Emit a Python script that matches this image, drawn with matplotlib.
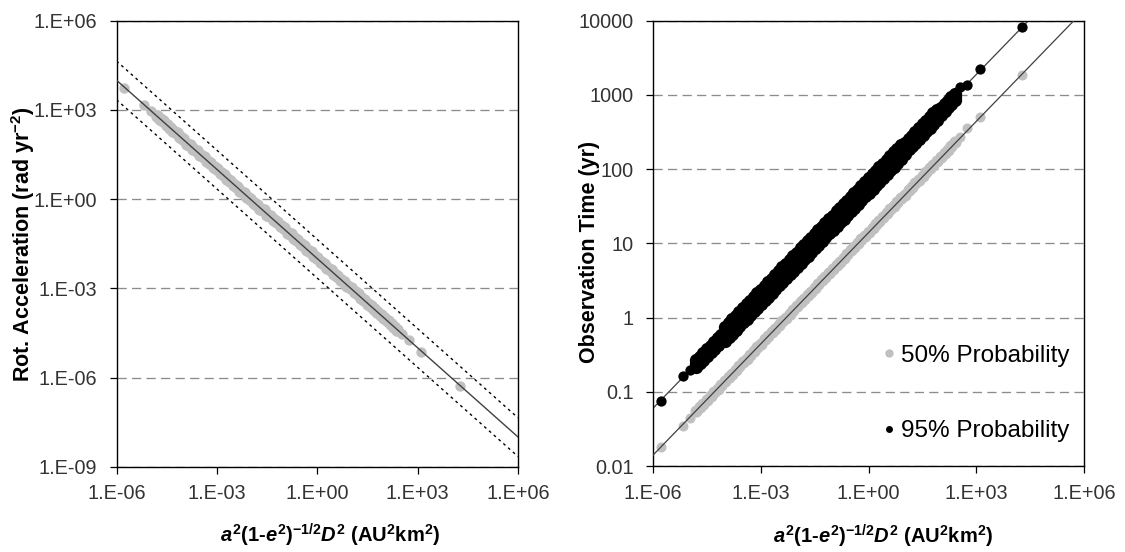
import matplotlib
matplotlib.use("Agg")
import matplotlib.pyplot as plt
import numpy as np
from matplotlib.lines import Line2D
from matplotlib.ticker import FixedLocator, FuncFormatter, NullLocator

plt.rcParams["font.family"] = ["Liberation Sans", "DejaVu Sans"]
plt.rcParams["mathtext.fontset"] = "custom"
plt.rcParams["mathtext.rm"] = "Liberation Sans:bold"
plt.rcParams["mathtext.it"] = "Liberation Sans:italic:bold"
plt.rcParams["mathtext.bf"] = "Liberation Sans:bold"
plt.rcParams["mathtext.default"] = "rm"

# isolated objects at both ends of the sample
x_ends = [1.64e-6, 6.7e-6, 1.07e-5, 3.5e2, 5.5e2, 1.29e3, 1.86e4]
accel_ends = [5.6e3, 1.5e3, 9.3e2, 2.9e-5, 1.8e-5, 7.4e-6, 5.2e-7]
t50_ends = [0.018, 0.0346, 0.044, 270, 355, 510, 1860]
t95_ends = [0.075, 0.163, 0.196, 1270, 1360, 2220, 8140]

# dense part of the sample
x_band = [
    1.6e-5, 2.0e-5, 2.5e-5, 3.2e-5, 4.0e-5, 5.0e-5, 6.3e-5, 8.0e-5,
    1.0e-4, 1.3e-4, 1.6e-4, 2.0e-4, 2.5e-4, 3.2e-4, 4.0e-4, 5.0e-4, 6.3e-4, 8.0e-4,
    1.0e-3, 1.3e-3, 1.6e-3, 2.0e-3, 2.5e-3, 3.2e-3, 4.0e-3, 5.0e-3, 6.3e-3, 8.0e-3,
    1.0e-2, 1.3e-2, 1.6e-2, 2.0e-2, 2.5e-2, 3.2e-2, 4.0e-2, 5.0e-2, 6.3e-2, 8.0e-2,
    0.10, 0.13, 0.16, 0.20, 0.25, 0.32, 0.40, 0.50, 0.63, 0.80,
    1.0, 1.3, 1.6, 2.0, 2.5, 3.2, 4.0, 5.0, 6.3, 8.0,
    10, 13, 16, 20, 25, 32, 40, 50, 63, 80,
    100, 130, 160, 200, 250,
]
accel_band = [
    640, 490, 410, 305, 255, 195, 162, 122,
    104, 74.0, 65.0, 48.0, 41.5, 30.0, 26.0, 19.2, 16.5, 12.0,
    10.4, 7.40, 6.50, 4.80, 4.15, 3.00, 2.60, 1.92, 1.65, 1.20,
    1.04, 0.740, 0.650, 0.480, 0.415, 0.300, 0.260, 0.192, 0.165, 0.120,
    0.104, 0.0740, 0.0650, 0.0480, 0.0415, 0.0300, 0.0260, 0.0192, 0.0165, 0.0120,
    1.04e-2, 7.40e-3, 6.50e-3, 4.80e-3, 4.15e-3, 3.00e-3, 2.60e-3, 1.92e-3, 1.65e-3, 1.20e-3,
    1.02e-3, 7.60e-4, 6.35e-4, 4.90e-4, 4.05e-4, 3.08e-4, 2.52e-4, 1.98e-4, 1.60e-4, 1.24e-4,
    1.00e-4, 7.70e-5, 6.25e-5, 5.00e-5, 4.00e-5,
]
t50_band = [
    0.0550, 0.0615, 0.0690, 0.0780, 0.0875, 0.0980, 0.110, 0.124,
    0.139, 0.159, 0.176, 0.197, 0.221, 0.250, 0.280, 0.313, 0.352, 0.397,
    0.445, 0.507, 0.563, 0.630, 0.705, 0.798, 0.892, 1.00, 1.12, 1.26,
    1.41, 1.62, 1.79, 2.00, 2.24, 2.53, 2.84, 3.17, 3.56, 4.02,
    4.50, 5.13, 5.69, 6.36, 7.12, 8.05, 9.00, 10.1, 11.3, 12.7,
    14.3, 16.3, 18.1, 20.2, 22.6, 25.6, 28.6, 32.0, 36.0, 40.6,
    45.4, 51.8, 57.5, 64.3, 71.9, 81.4, 91.0, 102, 114, 129,
    144, 165, 183, 205, 229,
]
t95_band_lo = [
    0.216, 0.241, 0.270, 0.305, 0.342, 0.382, 0.428, 0.483,
    0.480, 0.547, 0.607, 0.679, 0.759, 0.859, 0.960, 1.07, 1.21, 1.36,
    1.52, 1.73, 1.92, 2.15, 2.40, 2.72, 3.04, 3.39, 3.81, 4.29,
    4.80, 5.47, 6.07, 6.79, 7.59, 8.59, 9.60, 10.7, 12.1, 13.6,
    15.2, 17.3, 19.2, 21.5, 24.0, 27.2, 30.4, 33.9, 38.1, 43.0,
    48.0, 54.7, 60.7, 67.9, 75.9, 85.9, 96.0, 107, 121, 136,
    161, 184, 204, 228, 255, 288, 323, 360, 405, 456,
    540, 616, 683, 764, 854,
]
t95_band_mid = [
    0.240, 0.268, 0.300, 0.339, 0.380, 0.424, 0.476, 0.537,
    0.600, 0.684, 0.759, 0.849, 0.949, 1.07, 1.20, 1.34, 1.51, 1.70,
    1.90, 2.16, 2.40, 2.68, 3.00, 3.39, 3.80, 4.24, 4.76, 5.37,
    6.00, 6.84, 7.59, 8.49, 9.49, 10.7, 12.0, 13.4, 15.1, 17.0,
    19.0, 21.6, 24.0, 26.8, 30.0, 33.9, 38.0, 42.4, 47.6, 53.7,
    60.0, 68.4, 75.9, 84.9, 94.9, 107, 120, 134, 151, 170,
    190, 216, 240, 268, 300, 339, 380, 424, 476, 537,
    600, 684, 759, 849, 949,
]
t95_band_hi = [
    0.264, 0.295, 0.330, 0.373, 0.418, 0.466, 0.524, 0.591,
    0.750, 0.855, 0.949, 1.06, 1.19, 1.34, 1.50, 1.68, 1.89, 2.12,
    2.37, 2.70, 3.00, 3.35, 3.75, 4.24, 4.75, 5.30, 5.95, 6.71,
    7.50, 8.55, 9.49, 10.6, 11.9, 13.4, 15.0, 16.8, 18.9, 21.2,
    23.7, 27.0, 30.0, 33.5, 37.5, 42.4, 47.5, 53.0, 59.5, 67.1,
    75.0, 85.5, 94.9, 106, 119, 134, 150, 168, 189, 212,
    224, 255, 283, 316, 354, 400, 448, 500, 562, 634,
    660, 752, 835, 934, 1044,
]

# power-law trendlines: coefficient, exponent
accel_fit = (1.0e-2, -1.0)
accel_fit_hi = (4.4e-2, -1.0)
accel_fit_lo = (2.2e-3, -1.0)
t50_fit = (14.0, 0.5)
t95_fit = (60.0, 0.5)

x_ticks = [1e-6, 1e-3, 1e0, 1e3, 1e6]
accel_ticks = [1e-9, 1e-6, 1e-3, 1e0, 1e3, 1e6]
time_ticks = [0.01, 0.1, 1, 10, 100, 1000, 10000]

xlabel = (r"$\mathit{a}^{2}$(1-$\mathit{e}^{2}$)$^{-1/2}\mathit{D}^{2}$"
          r" (AU$^{2}$km$^{2}$)")

GRAY = "#c0c0c0"
GRID = "#8c8c8c"
TICK = "#333333"


def exp_label(v, pos):
    return f"1.E{int(round(np.log10(v))):+03d}"


def style_axes(ax, yticks, yfmt):
    ax.set_xscale("log")
    ax.set_yscale("log")
    ax.set_xlim(1e-6, 1e6)
    ax.set_ylim(yticks[0], yticks[-1])
    ax.xaxis.set_major_locator(FixedLocator(x_ticks))
    ax.yaxis.set_major_locator(FixedLocator(yticks))
    ax.xaxis.set_minor_locator(NullLocator())
    ax.yaxis.set_minor_locator(NullLocator())
    ax.xaxis.set_major_formatter(FuncFormatter(exp_label))
    ax.yaxis.set_major_formatter(FuncFormatter(yfmt))
    ax.yaxis.grid(True, color=GRID, linestyle=(0, (7, 4)), linewidth=0.95)
    ax.set_axisbelow(True)
    ax.tick_params(which="major", direction="out", length=4.8, width=0.9,
                   labelsize=14.3, labelcolor=TICK)
    ax.tick_params(axis="y", pad=9)
    ax.tick_params(axis="x", pad=8)
    for sp in ax.spines.values():
        sp.set_linewidth(1.0)
        sp.set_color("black")


fig = plt.figure(figsize=(11.25, 5.52), dpi=100)
ax1 = fig.add_axes([116.5 / 1125, 85.3 / 552, 401.5 / 1125, 446 / 552])
ax2 = fig.add_axes([653 / 1125, 86 / 552, 431.3 / 1125, 445.3 / 552])
x_fit = np.logspace(-6, 6, 200)

# left panel: rotational acceleration
style_axes(ax1, accel_ticks, exp_label)
ax1.plot(x_band, accel_band, "o", ms=9.2, color=GRAY, mec="none", zorder=2)
ax1.plot(x_ends, accel_ends, "o", ms=7.5, color=GRAY, mec="none", zorder=2)
ax1.plot(x_fit, accel_fit[0] * x_fit ** accel_fit[1], color="#404040", lw=1.0, zorder=3)
for a, b in (accel_fit_hi, accel_fit_lo):
    ax1.plot(x_fit, a * x_fit ** b, color="black", lw=1.0, linestyle=(0, (2, 2.6)), zorder=3)
ax1.set_ylabel("Rot. Acceleration (rad yr$^{-2}$)", fontsize=15.5, fontweight="bold")
ax1.yaxis.label.set_va("center")
ax1.yaxis.set_label_coords((23.5 - 116.5) / 401.5, 0.5)
ax1.set_xlabel(xlabel, fontsize=14.5, fontweight="bold")
ax1.xaxis.label.set_va("center")
ax1.xaxis.set_label_coords(0.533, -0.155)

# right panel: observation time
style_axes(ax2, time_ticks, lambda v, pos: f"{v:g}")
ax2.plot(x_fit, t95_fit[0] * x_fit ** t95_fit[1], color="#404040", lw=0.9, zorder=1.5)
for row in (t95_band_lo, t95_band_mid, t95_band_hi):
    ax2.plot(x_band, row, "o", ms=9.6, color="black", mec="none", zorder=2)
ax2.plot(x_ends, t95_ends, "o", ms=7.4, color="black", mec="none", zorder=2)
ax2.plot(x_band, t50_band, "o", ms=8.8, color=GRAY, mec="none", zorder=2)
ax2.plot(x_ends, t50_ends, "o", ms=7.2, color=GRAY, mec="none", zorder=2)
ax2.plot(x_fit, t50_fit[0] * x_fit ** t50_fit[1], color="#404040", lw=0.9, zorder=3)
ax2.set_ylabel("Observation Time (yr)", fontsize=15.5, fontweight="bold")
ax2.yaxis.label.set_va("center")
ax2.yaxis.set_label_coords((589 - 653) / 431.3, 0.48)
ax2.set_xlabel(xlabel, fontsize=14.5, fontweight="bold")
ax2.xaxis.label.set_va("center")
ax2.xaxis.set_label_coords(0.533, -0.157)

handles = [
    Line2D([], [], marker="o", ls="none", color=GRAY, mec="none", ms=6),
    Line2D([], [], marker="o", ls="none", color="black", mec="none", ms=5),
]
ax2.legend(handles, ["50% Probability", "95% Probability"], loc="upper left",
           bbox_to_anchor=(0.5358, 0.2718), frameon=False, fontsize=17.5,
           handlelength=0.4, handletextpad=0.3, labelspacing=2.2,
           borderpad=0, borderaxespad=0)

fig.savefig("out.png", dpi=100)
